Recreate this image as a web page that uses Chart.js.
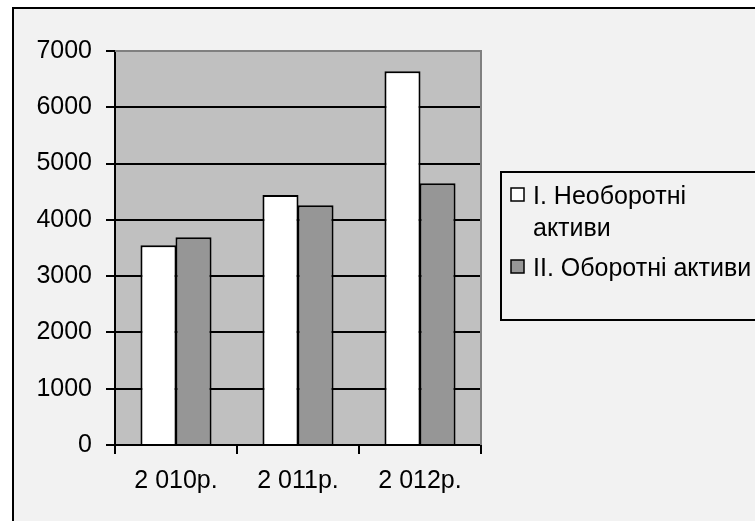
<!DOCTYPE html>
<html>
<head>
<meta charset="utf-8">
<script src="https://cdn.jsdelivr.net/npm/chart.js@4/dist/chart.umd.min.js"></script>
<style>
  html, body { margin: 0; padding: 0; background: #ffffff; overflow: hidden; }
  #wrap { position: relative; width: 755px; height: 521px; }
  #frame {
    position: absolute; left: 12px; top: 7px; width: 800px; height: 560px;
    border: 2px solid #000; background: #f2f2f2; box-sizing: border-box;
  }
  #chart { position: absolute; left: 0; top: 0; }
</style>
</head>
<body>
<div id="wrap">
  <div id="frame"></div>
  <canvas id="chart" width="755" height="521"></canvas>
</div>
<script>
// Categories (years) and the two balance-sheet asset groups
const years = ['2 010р.', '2 011р.', '2 012р.'];
const seriesNames = [['I. Необоротні', 'активи'], ['II. Оборотні активи']];
const nonCurrentAssets = [3550, 4440, 6640];
const currentAssets = [3690, 4260, 4650];
const yTicks = [0, 1000, 2000, 3000, 4000, 5000, 6000, 7000];

const FONT = '"Liberation Sans", Arial, sans-serif';
const FONT_SIZE = 25;
const barColors = ['#ffffff', '#969696'];

// Grey plot background with darker top/right edges
const plotBackground = {
  id: 'plotBackground',
  beforeDraw(chart) {
    const { ctx, chartArea: a } = chart;
    ctx.save();
    ctx.fillStyle = '#c0c0c0';
    ctx.fillRect(a.left, a.top, a.right - a.left, a.bottom - a.top);
    ctx.restore();
  },
  afterDatasetsDraw(chart) {
    const { ctx, chartArea: a } = chart;
    ctx.save();
    ctx.strokeStyle = '#808080';
    ctx.lineWidth = 2;
    ctx.beginPath();
    ctx.moveTo(a.left, a.top);
    ctx.lineTo(a.right, a.top);
    ctx.lineTo(a.right, a.bottom);
    ctx.stroke();
    ctx.restore();
  }
};

// Framed legend on the right, one square marker per series
const framedLegend = {
  id: 'framedLegend',
  afterDraw(chart) {
    const { ctx } = chart;
    const box = { x: 501, y: 172, w: 300, h: 148 };
    ctx.save();
    ctx.strokeStyle = '#000';
    ctx.lineWidth = 2;
    ctx.strokeRect(box.x, box.y, box.w, box.h);
    ctx.font = FONT_SIZE + 'px ' + FONT;
    ctx.fillStyle = '#000';
    ctx.textBaseline = 'alphabetic';
    const lineGap = 32, itemGap = 40;
    let baseline = 204;
    chart.data.datasets.forEach((ds) => {
      const lines = Array.isArray(ds.label) ? ds.label : [ds.label];
      ctx.fillStyle = ds.backgroundColor;
      ctx.fillRect(511, baseline - 16, 13, 13);
      ctx.lineWidth = 1.5;
      ctx.strokeStyle = '#000';
      ctx.strokeRect(511, baseline - 16, 13, 13);
      ctx.fillStyle = '#000';
      lines.forEach((ln, i) => {
        ctx.fillText(ln, 533, baseline + i * lineGap);
      });
      baseline += (lines.length - 1) * lineGap + itemGap;
    });
    ctx.restore();
  }
};

new Chart(document.getElementById('chart'), {
  type: 'bar',
  data: {
    labels: years,
    datasets: [
      {
        label: seriesNames[0],
        data: nonCurrentAssets,
        backgroundColor: barColors[0],
        borderColor: '#000',
        borderWidth: 2,
        borderSkipped: 'start'
      },
      {
        label: seriesNames[1],
        data: currentAssets,
        backgroundColor: barColors[1],
        borderColor: '#000',
        borderWidth: 2,
        borderSkipped: 'start'
      }
    ]
  },
  options: {
    responsive: false,
    animation: false,
    devicePixelRatio: 1,
    layout: { padding: { left: 0, top: 51, right: 274, bottom: 0 } },
    datasets: {
      bar: { categoryPercentage: 0.574, barPercentage: 1.03 }
    },
    plugins: {
      legend: { display: false },
      tooltip: { enabled: false }
    },
    scales: {
      x: {
        grid: {
          offset: true,
          drawOnChartArea: false,
          drawTicks: true,
          tickLength: 9,
          color: '#000',
          lineWidth: 2
        },
        border: { color: '#000', width: 2 },
        ticks: {
          color: '#000',
          font: { family: FONT, size: FONT_SIZE },
          padding: 12,
          maxRotation: 0
        },
        afterFit(scale) { scale.height = 76; }
      },
      y: {
        min: 0,
        max: 7000,
        afterBuildTicks(scale) { scale.ticks = yTicks.map(v => ({ value: v })); },
        grid: {
          color: (c) => (c.tick && c.tick.value === 7000 ? '#808080' : '#000'),
          tickColor: '#000',
          lineWidth: 2,
          tickLength: 9
        },
        border: { color: '#000', width: 2 },
        ticks: {
          color: '#000',
          font: { family: FONT, size: FONT_SIZE },
          padding: 14,
          callback: (v) => String(v)
        },
        afterFit(scale) { scale.width = 115; }
      }
    }
  },
  plugins: [plotBackground, framedLegend]
});
</script>
</body>
</html>
